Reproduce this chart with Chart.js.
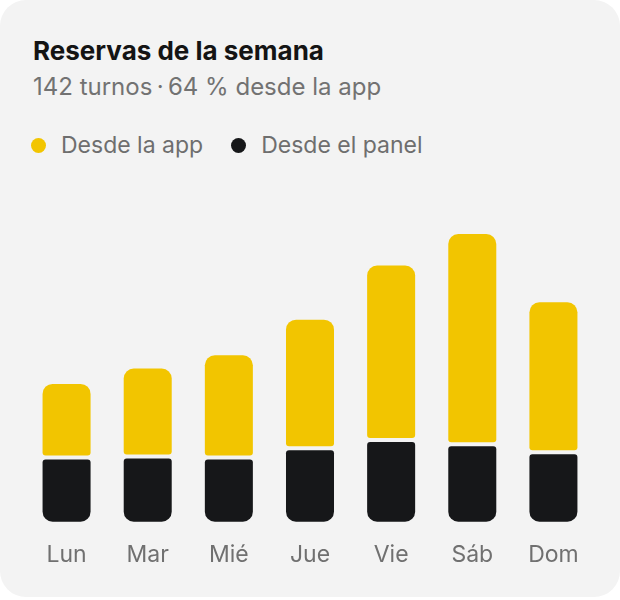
<!DOCTYPE html>
<html lang="es">
<head>
<meta charset="utf-8">
<title>Reservas de la semana</title>
<script src="https://cdn.jsdelivr.net/npm/chart.js@4.4.1/dist/chart.umd.min.js"></script>
<style>
  html, body { margin: 0; padding: 0; background: #fff; }
  body { width: 620px; height: 600px; overflow: hidden; font-family: Inter, "Noto Sans", sans-serif; }
  .card { position: absolute; left: 0; top: 0; width: 620px; height: 597px; background: #f3f3f3; border-radius: 26px; }
  .title { position: absolute; left: 33px; top: 38px; margin: 0; font-size: 26px; line-height: 26px; font-weight: 700; color: #141414; }
  .sub { position: absolute; left: 33px; top: 75px; margin: 0; font-size: 24px; line-height: 24px; font-weight: 400; color: #727272; }
  .legend { position: absolute; left: 31px; top: 134px; display: flex; font-size: 23px; line-height: 23px; color: #6e6e6e; }
  .legend span { display: flex; align-items: center; margin-right: 28px; }
  .legend i { display: inline-block; width: 15px; height: 15px; border-radius: 50%; margin-right: 15px; }
  #chart { position: absolute; left: 0; top: 200px; }
</style>
</head>
<body>
<div class="card">
  <h1 class="title">Reservas de la semana</h1>
  <p class="sub">142 turnos&thinsp;·&thinsp;64&nbsp;% desde la app</p>
  <div class="legend" id="legend"></div>
  <canvas id="chart" width="620" height="397"></canvas>
</div>
<script>
// turnos por día
const dias = ['Lun', 'Mar', 'Mié', 'Jue', 'Vie', 'Sáb', 'Dom'];
const desdePanel = [6.5, 6.6, 6.5, 7.4, 8.2, 7.8, 7.0];
const desdeApp = [7.4, 8.8, 10.2, 12.8, 17.3, 20.8, 14.9];
const series = ['Desde la app', 'Desde el panel'];

const AMARILLO = '#f2c500';
const NEGRO = '#161719';
const FONDO = '#f3f3f3';

// leyenda
document.getElementById('legend').innerHTML = series.map((s, i) =>
  `<span><i style="background:${i === 0 ? AMARILLO : NEGRO}"></i>${s}</span>`
).join('');

const ctx = document.getElementById('chart').getContext('2d');
new Chart(ctx, {
  type: 'bar',
  data: {
    labels: dias,
    datasets: [{
      label: series[1],
      data: desdePanel,
      backgroundColor: NEGRO,
      borderColor: FONDO,
      borderWidth: 2,
      borderSkipped: false,
      borderRadius: { topLeft: 5, topRight: 5, bottomLeft: 12, bottomRight: 12 }
    }, {
      label: series[0],
      data: desdeApp,
      backgroundColor: AMARILLO,
      borderColor: FONDO,
      borderWidth: 2,
      borderSkipped: false,
      borderRadius: { topLeft: 12, topRight: 12, bottomLeft: 5, bottomRight: 5 }
    }]
  },
  options: {
    responsive: false,
    animation: false,
    events: [],
    layout: { padding: { left: 26, right: 26, top: 17.7, bottom: 9.7 } },
    datasets: { bar: { categoryPercentage: 1, barPercentage: 0.641 } },
    plugins: { legend: { display: false }, tooltip: { enabled: false } },
    scales: {
      x: {
        stacked: true,
        grid: { display: false, drawTicks: false },
        border: { display: false },
        ticks: { padding: 18, color: '#707070', font: { family: 'Inter', size: 23 } }
      },
      y: { stacked: true, display: false, min: 0, max: 30 }
    }
  }
});
</script>
</body>
</html>
